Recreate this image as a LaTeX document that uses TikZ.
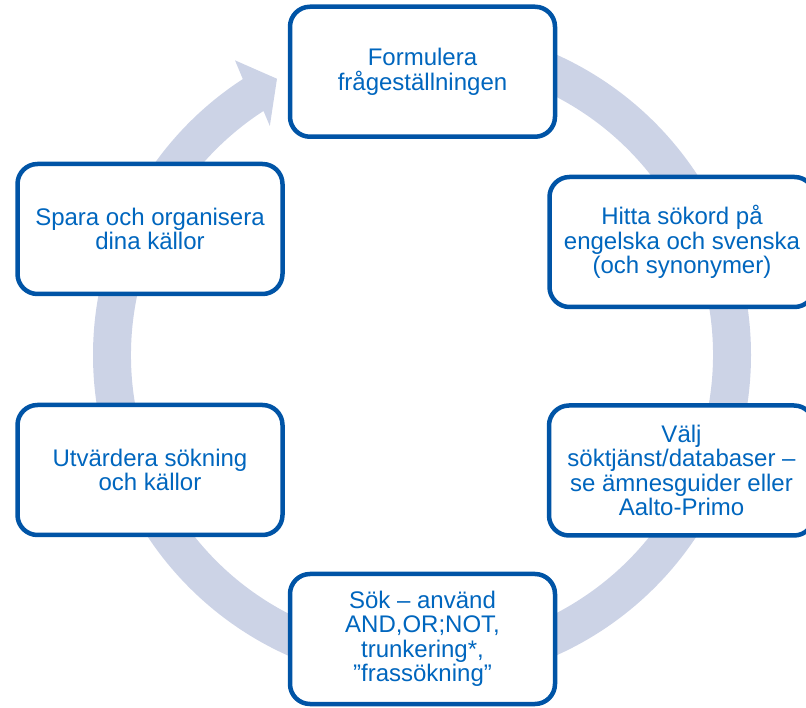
\documentclass[tikz,border=0pt]{standalone}
\usepackage{fontspec}
\setmainfont{Liberation Sans}
\usetikzlibrary{calc}
\definecolor{ringc}{RGB}{204,211,230}
\definecolor{boxline}{RGB}{0,84,166}
\definecolor{boxtext}{RGB}{0,102,190}
\begin{document}
\begin{tikzpicture}[x=1pt,y=1pt,
  steptext/.style={text=boxtext, font=\fontsize{24}{24.5}\selectfont, align=center},
  stepbox/.style={steptext, draw=boxline, line width=4.5pt, fill=white, rounded corners=20pt,
    minimum width=265pt, minimum height=130pt, inner sep=0pt}]
\useasboundingbox (0,0) rectangle (806,707);
\clip (0,0) rectangle (806,707);
\coordinate (C) at (422,352);
% circular arrow
\fill[ringc] ($(C)+(90:329)$) arc[start angle=90, end angle=-237, radius=329]
  -- ($(C)+(122.4:349)$) -- ($(C)+(117.7:312)$) -- ($(C)+(123.6:275)$)
  -- ($(C)+(-237:291)$) arc[start angle=-237, end angle=90, radius=291] -- cycle;
% boxes
\node[stepbox] (formulera) at (422.5,635.25) {Formulera\\frågeställningen};
\node[stepbox] (hitta) at (682,465) {Hitta sökord på\\engelska och svenska\\(och synonymer)};
\node[stepbox] (valj) at (681.5,236.5) {Välj\\söktjänst/databaser –\\se ämnesguider eller\\Aalto-Primo};
\node[stepbox] (sok) at (422.5,68) {Sök – använd\\AND,OR;NOT,\\trunkering*,\\”frassökning”};
\node[stepbox] (utvardera) at (150,237) {Utvärdera sökning\\och källor};
\node[stepbox] (spara) at (150,478) {Spara och organisera\\dina källor};
\end{tikzpicture}
\end{document}
